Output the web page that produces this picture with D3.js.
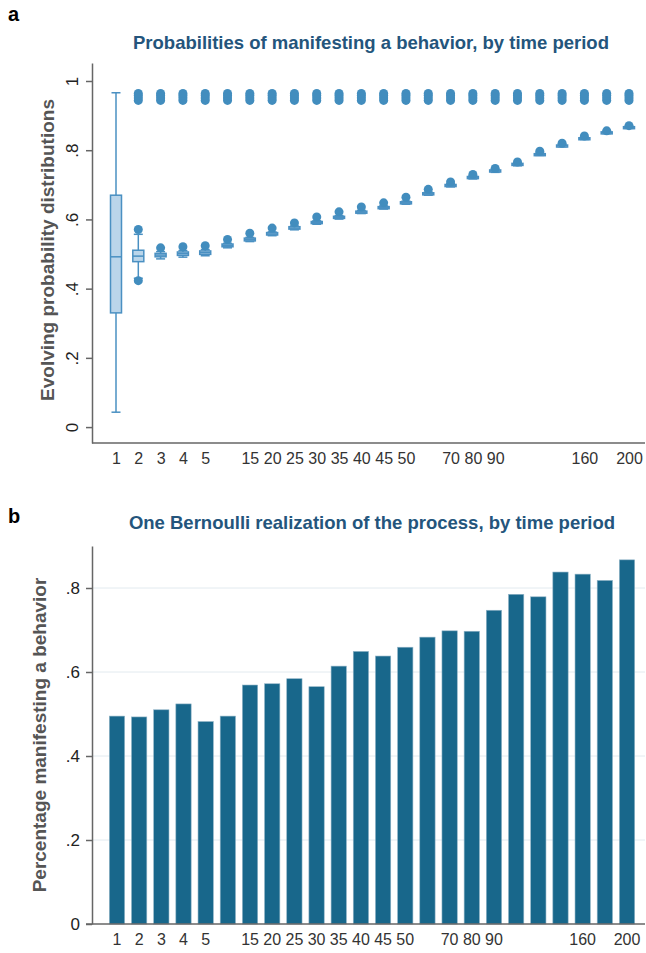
<!DOCTYPE html>
<html>
<head>
<meta charset="utf-8">
<script src="https://cdn.jsdelivr.net/npm/d3@7"></script>
<style>
  body { margin: 0; background: #fff; }
  svg { font-family: "Liberation Sans", Arial, sans-serif; }
</style>
</head>
<body>
<svg id="chart" width="646" height="953"></svg>
<script>
// time periods (categories) and which of them get a tick label
var periods = ["1","2","3","4","5","10","15","20","25","30","35","40","45","50","60","70","80","90","100","120","140","160","180","200"];
var shownTicks = ["1","2","3","4","5","15","20","25","30","35","40","45","50","70","80","90","160","200"];

// panel a: box plot summaries per period
var boxQ1     = [0.330,0.478,0.492,0.496,0.499,0.521,0.538,0.555,0.572,0.588,0.603,0.618,0.631,0.645,0.671,0.695,0.718,0.737,0.756,0.786,0.811,0.832,0.849,0.864];
var boxMed    = [0.492,0.494,0.497,0.501,0.504,0.525,0.542,0.558,0.575,0.591,0.606,0.621,0.634,0.648,0.674,0.698,0.721,0.740,0.759,0.788,0.813,0.834,0.851,0.866];
var boxQ3     = [0.670,0.511,0.502,0.506,0.509,0.529,0.546,0.562,0.579,0.594,0.609,0.624,0.637,0.651,0.677,0.701,0.724,0.743,0.762,0.790,0.815,0.836,0.853,0.868];
var whiskLo   = [0.043,0.430,0.486,0.491,0.495,0.518,0.536,0.553,0.570,0.586,0.601,0.617,0.630,0.644,0.670,0.694,0.717,0.736,0.755,0.785,0.810,0.831,0.848,0.863];
var whiskHi   = [0.966,0.557,0.507,0.510,0.513,0.531,0.548,0.564,0.581,0.596,0.611,0.626,0.639,0.653,0.679,0.703,0.726,0.745,0.764,0.792,0.817,0.838,0.855,0.869];
var outNear   = [null,0.571,0.518,0.521,0.524,0.542,0.560,0.575,0.590,0.607,0.622,0.636,0.648,0.664,0.687,0.708,0.730,0.747,0.766,0.797,0.820,0.841,0.856,0.871];
var outLow    = [null,0.423,null,null,null,null,null,null,null,null,null,null,null,null,null,null,null,null,null,null,null,null,null,null];
var highCluster = [0.944,0.951,0.958,0.964]; // agents stuck near 1, from period 2 on

// panel b: one Bernoulli realization
var shares = [0.495,0.493,0.510,0.524,0.482,0.495,0.569,0.572,0.584,0.565,0.614,0.649,0.638,0.659,0.683,0.698,0.697,0.747,0.785,0.779,0.838,0.833,0.818,0.867];

var yTicksA = [0, 0.2, 0.4, 0.6, 0.8, 1];
var yTicksB = [0, 0.2, 0.4, 0.6, 0.8];

var svg = d3.select("#chart");
var fmt = function(v) { return v === 0 ? "0" : v === 1 ? "1" : d3.format(".1f")(v).replace(/^0/, ""); };

var boxStroke = "#4a90c2", boxFill = "#bad5ea", dotCol = "#428dbe";
var barCol = "#18678b", titleCol = "#24557c", axisCol = "#666";

// ---------- panel a ----------
var xa = d3.scalePoint().domain(periods).range([116, 629]);
var ya = d3.scaleLinear().domain([-0.046, 1.052]).range([443, 63]);

svg.append("text").attr("x", 8).attr("y", 21).text("a")
  .style("font-size", "20px").style("font-weight", "bold");
svg.append("text").attr("x", 371).attr("y", 49).attr("text-anchor", "middle")
  .style("font-size", "18.5px").style("font-weight", "bold").attr("fill", titleCol)
  .text("Probabilities of manifesting a behavior, by time period");

var gA = svg.append("g");
var bw = 11;
periods.forEach(function(p, i) {
  var cx = xa(p);
  var g = gA.append("g");
  // whiskers
  g.append("line").attr("x1", cx).attr("x2", cx).attr("y1", ya(whiskHi[i])).attr("y2", ya(boxQ3[i]))
    .attr("stroke", boxStroke).attr("stroke-width", 1.5);
  g.append("line").attr("x1", cx).attr("x2", cx).attr("y1", ya(boxQ1[i])).attr("y2", ya(whiskLo[i]))
    .attr("stroke", boxStroke).attr("stroke-width", 1.5);
  [whiskHi[i], whiskLo[i]].forEach(function(w) {
    g.append("line").attr("x1", cx - 4.5).attr("x2", cx + 4.5).attr("y1", ya(w)).attr("y2", ya(w))
      .attr("stroke", boxStroke).attr("stroke-width", 1.5);
  });
  g.append("rect").attr("x", cx - bw / 2).attr("width", bw)
    .attr("y", ya(boxQ3[i])).attr("height", Math.max(ya(boxQ1[i]) - ya(boxQ3[i]), 2))
    .attr("fill", boxFill).attr("stroke", boxStroke).attr("stroke-width", 1.5);
  g.append("line").attr("x1", cx - bw / 2).attr("x2", cx + bw / 2).attr("y1", ya(boxMed[i])).attr("y2", ya(boxMed[i]))
    .attr("stroke", boxStroke).attr("stroke-width", 1.5);
  var pts = [];
  if (outNear[i] !== null) pts.push(outNear[i]);
  if (outLow[i] !== null) pts.push(outLow[i]);
  if (i > 0) pts = pts.concat(highCluster);
  g.selectAll("circle").data(pts).enter().append("circle")
    .attr("cx", cx).attr("cy", function(d) { return ya(d); }).attr("r", 4.5)
    .attr("fill", dotCol);
});

// axes a
var yAxisA = d3.axisLeft(ya).tickValues(yTicksA).tickFormat(fmt).tickSize(6).tickSizeOuter(0);
var gyA = svg.append("g").attr("transform", "translate(92,0)").call(yAxisA);
gyA.select(".domain").attr("stroke", axisCol).attr("stroke-width", 1.5);
gyA.selectAll(".tick line").attr("stroke", axisCol).attr("stroke-width", 1.5);
gyA.selectAll(".tick text").attr("x", 0).attr("dy", null)
  .attr("transform", "translate(-14,0) rotate(-90)").attr("text-anchor", "middle")
  .style("font-size", "17px").attr("fill", "#222");
svg.append("line").attr("x1", 92).attr("x2", 645).attr("y1", 443).attr("y2", 443)
  .attr("stroke", axisCol).attr("stroke-width", 1.5);
var gxA = svg.append("g").attr("transform", "translate(0,443)")
  .call(d3.axisBottom(xa).tickSize(0).tickFormat(function(d) { return shownTicks.indexOf(d) >= 0 ? d : ""; }));
gxA.select(".domain").remove();
gxA.selectAll(".tick text").attr("dy", "1.15em").style("font-size", "16px").attr("fill", "#333");
svg.append("text").attr("transform", "translate(54,250) rotate(-90)").attr("text-anchor", "middle")
  .style("font-size", "19px").style("font-weight", "bold").attr("fill", "#555")
  .text("Evolving probability distributions");

// ---------- panel b ----------
var xb = d3.scaleBand().domain(periods).range([106, 638]).paddingInner(0.31).paddingOuter(0.15);
var yb = d3.scaleLinear().domain([0, 0.9]).range([924, 546]);

svg.append("text").attr("x", 8).attr("y", 523).text("b")
  .style("font-size", "20px").style("font-weight", "bold");
svg.append("text").attr("x", 372).attr("y", 529).attr("text-anchor", "middle")
  .style("font-size", "18.5px").style("font-weight", "bold").attr("fill", titleCol)
  .text("One Bernoulli realization of the process, by time period");

svg.append("g").selectAll("line").data(yTicksB.slice(1)).enter().append("line")
  .attr("x1", 92).attr("x2", 645).attr("y1", function(d) { return yb(d); }).attr("y2", function(d) { return yb(d); })
  .attr("stroke", "#e2eaef").attr("stroke-width", 1);

svg.append("g").selectAll("rect").data(shares).enter().append("rect")
  .attr("x", function(d, i) { return xb(periods[i]); })
  .attr("width", xb.bandwidth())
  .attr("y", function(d) { return yb(d); })
  .attr("height", function(d) { return yb(0) - yb(d); })
  .attr("fill", barCol).attr("stroke", "#8fb3c6").attr("stroke-width", 0.6);

var gyB = svg.append("g").attr("transform", "translate(92,0)")
  .call(d3.axisLeft(yb).tickValues(yTicksB).tickFormat(fmt).tickSize(6).tickSizeOuter(0));
gyB.select(".domain").attr("stroke", axisCol).attr("stroke-width", 1.5);
gyB.selectAll(".tick line").attr("stroke", axisCol).attr("stroke-width", 1.5);
gyB.selectAll(".tick text").attr("x", -12).style("font-size", "17px").attr("fill", "#222");
svg.append("line").attr("x1", 86).attr("x2", 645).attr("y1", 924).attr("y2", 924)
  .attr("stroke", axisCol).attr("stroke-width", 1.5);
var gxB = svg.append("g").attr("transform", "translate(0,924)")
  .call(d3.axisBottom(xb).tickSize(0).tickFormat(function(d) { return shownTicks.indexOf(d) >= 0 ? d : ""; }));
gxB.select(".domain").remove();
gxB.selectAll(".tick text").attr("dy", "1.15em").style("font-size", "16px").attr("fill", "#333");
svg.append("text").attr("transform", "translate(46,735) rotate(-90)").attr("text-anchor", "middle")
  .style("font-size", "19px").style("font-weight", "bold").attr("fill", "#555")
  .text("Percentage manifesting a behavior");
</script>
</body>
</html>
